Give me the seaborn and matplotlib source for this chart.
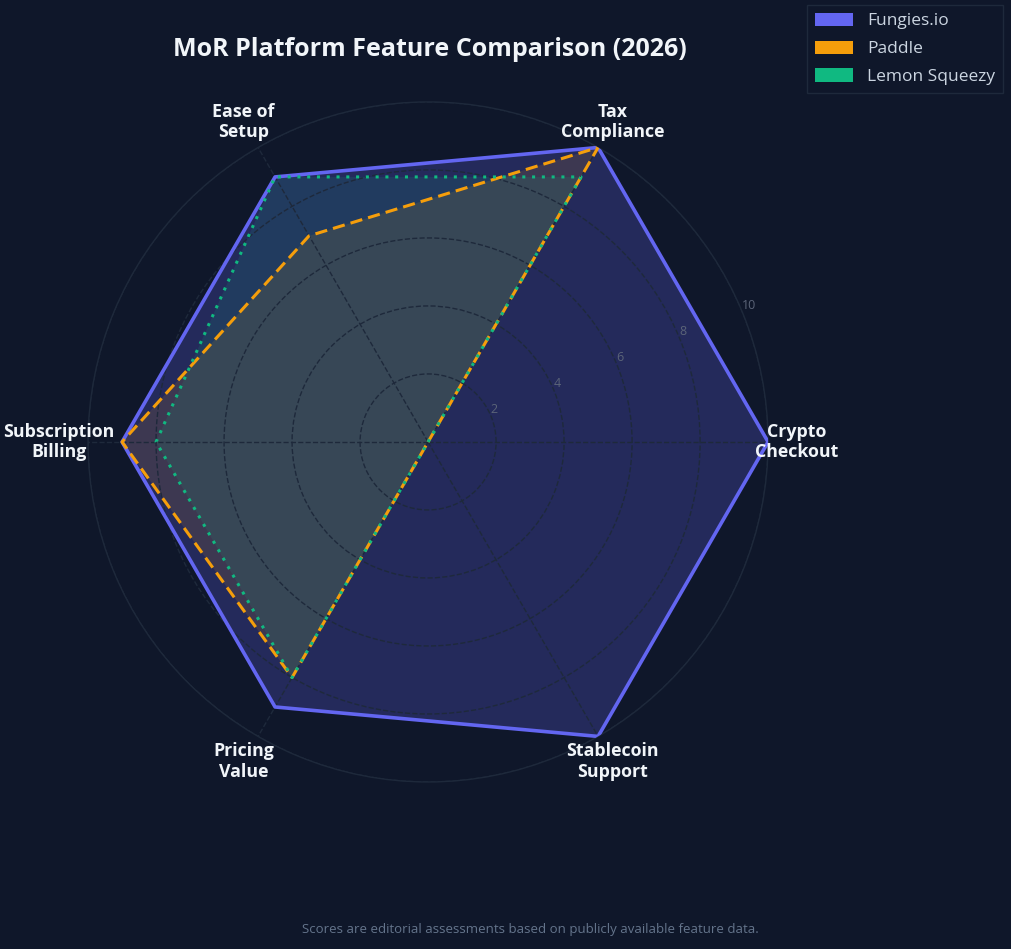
import numpy as np
import pandas as pd
import matplotlib
matplotlib.use("Agg")
import matplotlib.pyplot as plt
import seaborn as sns
from matplotlib.patches import Patch

categories = ["Crypto\nCheckout", "Tax\nCompliance", "Ease of\nSetup",
              "Subscription\nBilling", "Pricing\nValue", "Stablecoin\nSupport"]
platforms = ["Fungies.io", "Paddle", "Lemon Squeezy"]
fungies = [10, 10, 9, 9, 9, 10]
paddle = [0, 10, 7, 9, 8, 0]
lemon = [0, 9, 9, 8, 8, 0]
r_ticks = [2, 4, 6, 8, 10]

colors = {"Fungies.io": "#6366f1", "Paddle": "#f59e0b", "Lemon Squeezy": "#10b981"}
styles = {"Fungies.io": "-", "Paddle": (0, (4, 2)), "Lemon Squeezy": (0, (1, 2.2))}
widths = {"Fungies.io": 2.6, "Paddle": 2.2, "Lemon Squeezy": 2.2}
fill_alpha = {"Fungies.io": 0.25, "Paddle": 0.12, "Lemon Squeezy": 0.12}

bg = "#0f172a"
sns.set_theme(style="dark")
plt.rcParams["font.family"] = ["Open Sans", "DejaVu Sans"]

angles = np.linspace(0, 2 * np.pi, len(categories), endpoint=False)
rows = []
for name, vals in zip(platforms, [fungies, paddle, lemon]):
    for a, v in zip(list(angles) + [angles[0]], vals + [vals[0]]):
        rows.append({"platform": name, "theta": a, "score": v})
df = pd.DataFrame(rows)

fig = plt.figure(figsize=(10.12, 9.49), dpi=100, facecolor=bg)
ax = fig.add_axes([0.087, 0.176, 0.672, 0.7166], projection="polar")
ax.set_facecolor(bg)

for name in platforms:
    sub = df[df["platform"] == name]
    ax.fill(sub["theta"], sub["score"], color=colors[name], alpha=fill_alpha[name],
            zorder=1, linewidth=0)
    sns.lineplot(x=sub["theta"].values, y=sub["score"].values, ax=ax, sort=False,
                 estimator=None, color=colors[name], linewidth=widths[name],
                 linestyle=styles[name], zorder=3)

ax.set_axisbelow(False)
ax.set_ylim(0, 10)
ax.set_yticks(r_ticks)
ax.set_yticklabels([str(t) for t in r_ticks], color="#5b6478", fontsize=9)
ax.set_rlabel_position(22.5)
ax.set_xticks(angles)
ax.set_xticklabels([])
ax.grid(True, color="#1e293b", linestyle="--", linewidth=1.0)
ax.spines["polar"].set_color("#1e293b")
ax.spines["polar"].set_linewidth(1.0)
ax.set_xlabel("")
ax.set_ylabel("")

for a, lab in zip(angles, categories):
    ax.text(a, 10.85, lab, ha="center", va="center", color="#f1f5f9",
            fontsize=12.8, fontweight="bold", clip_on=False, linespacing=1.15)

fig.text(0.425, 1 - 49 / 949, "MoR Platform Feature Comparison (2026)", ha="center",
         va="center", color="#f1f5f9", fontsize=18, fontweight="bold")
fig.text(0.524, 1 - 930 / 949, "Scores are editorial assessments based on publicly available feature data.",
         ha="center", va="center", color="#64748b", fontsize=9.5)

handles = [Patch(facecolor=colors[n], edgecolor="none", label=n) for n in platforms]
leg = fig.legend(handles=handles, loc="upper right", bbox_to_anchor=(0.991, 0.995),
                 borderaxespad=0, fontsize=12.5, facecolor=bg, edgecolor="#1e293b",
                 framealpha=1, labelcolor="#cbd5e1", handlelength=2.2, handleheight=0.8,
                 borderpad=0.45, labelspacing=0.65, fancybox=False)

fig.savefig("out.png", dpi=100, facecolor=bg)
